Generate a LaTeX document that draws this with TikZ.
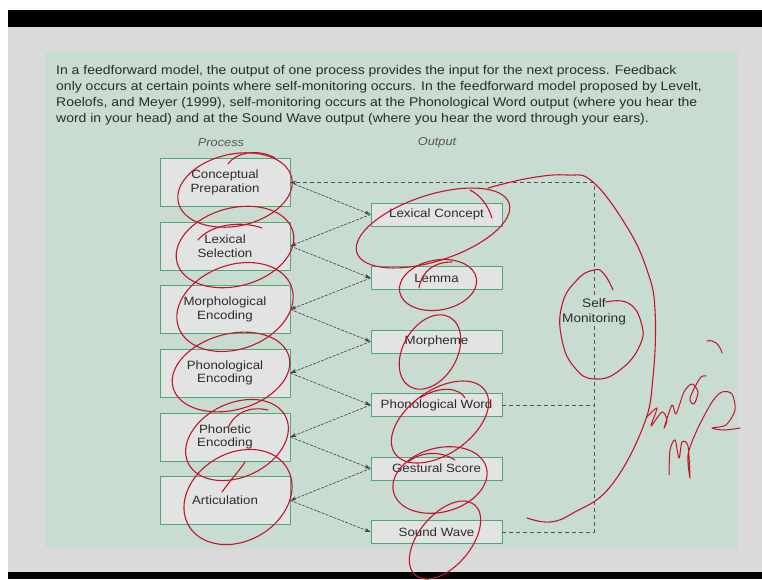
\documentclass[tikz,border=0pt]{standalone}
\usepackage{fontspec}
\setmainfont{Liberation Sans}
\newfontfamily\widesans[FakeStretch=1.11]{Liberation Sans}
\usetikzlibrary{arrows.meta}
\definecolor{slidegray}{HTML}{D9DAD9}
\definecolor{panel}{HTML}{C9DCD1}
\definecolor{boxfill}{HTML}{E2E4E3}
\definecolor{boxline}{HTML}{4FA876}
\definecolor{txt}{HTML}{2B2B2B}
\definecolor{ink}{HTML}{C4142C}
\tikzset{
  pbox/.style={draw=boxline, fill=boxfill, line width=0.8pt, minimum width=130pt,
    minimum height=48pt, inner sep=0pt, align=center, text=txt,
    font=\widesans\fontsize{12}{13.5}\selectfont},
  obox/.style={draw=boxline, fill=boxfill, line width=0.8pt, minimum width=131pt,
    minimum height=23pt, inner sep=0pt, text=txt, font=\widesans\fontsize{12}{13.5}\selectfont},
  flow/.style={draw=txt!90, line width=0.6pt, dash pattern=on 3pt off 1.2pt,
    -{Stealth[length=6pt,width=4pt]}},
  fback/.style={draw=txt!80, line width=0.6pt, dash pattern=on 4pt off 3pt},
  head/.style={text=txt!80, font=\widesans\fontsize{11.5}{13}\selectfont\itshape},
  para/.style={anchor=base west, inner sep=0pt, text=txt, font=\widesans\fontsize{12.6}{16}\selectfont},
  ink/.style={draw=ink, line width=1.1pt, line cap=round, line join=round},
}
\begin{document}
\begin{tikzpicture}[x=1pt,y=-1pt]
\useasboundingbox (0,0) rectangle (762,579);
% slide frame
\fill[white] (0,0) rectangle (762,579);
\fill[slidegray] (8,27) rectangle (762,572);
\fill[black] (8,10) rectangle (762,27);
\fill[black] (8,572) rectangle (762,579);
\fill[panel] (45,52) rectangle (738,549);

% caption
\node[para] (l1) at (56,74) {In a feedforward model, the output of one process provides the input for the next process. Feedback};
\node[para] (l2) at (56,90) {only occurs at certain points where self-monitoring occurs. In the feedforward model proposed by Levelt,};
\node[para] (l3) at (56,106) {Roelofs, and Meyer (1999), self-monitoring occurs at the Phonological Word output (where you hear the};
\node[para] (l4) at (56,122) {word in your head) and at the Sound Wave output (where you hear the word through your ears).};

% column headings
\node[head] (hp) at (221,143) {Process};
\node[head] (ho) at (437,143) {Output};

% process column
\node[pbox] (p1) at (225,182.5) {Conceptual\\Preparation};
\node[pbox] (p2) at (225,246) {Lexical\\Selection};
\node[pbox] (p3) at (225,309.5) {Morphological\\Encoding};
\node[pbox] (p4) at (225,373) {Phonological\\Encoding};
\node[pbox] (p5) at (225,437) {Phonetic\\Encoding};
\node[pbox] (p6) at (225,500.5) {Articulation};

% output column
\node[obox] (o1) at (436.5,214.5) {Lexical Concept};
\node[obox] (o2) at (436.5,278) {Lemma};
\node[obox] (o3) at (436.5,341.5) {Morpheme};
\node[obox] (o4) at (436.5,405) {Phonological Word};
\node[obox] (o5) at (436.5,468.5) {Gestural Score};
\node[obox] (o6) at (436.5,532) {Sound Wave};

% feedforward chain
\draw[flow] (p1.east) -- (o1.west);
\draw[flow] (o1.west) -- (p2.east);
\draw[flow] (p2.east) -- (o2.west);
\draw[flow] (o2.west) -- (p3.east);
\draw[flow] (p3.east) -- (o3.west);
\draw[flow] (o3.west) -- (p4.east);
\draw[flow] (p4.east) -- (o4.west);
\draw[flow] (o4.west) -- (p5.east);
\draw[flow] (p5.east) -- (o5.west);
\draw[flow] (o5.west) -- (p6.east);
\draw[flow] (p6.east) -- (o6.west);

% self-monitoring feedback loop
\coordinate (smx) at (594,0);
\draw[fback] (o4.east) -- (o4.east -| smx);
\draw[fback] (o6.east) -- (o6.east -| smx) -- (p1.east -| smx);
\draw[fback, -{Stealth[length=6pt,width=4pt]}] (p1.east -| smx) -- (p1.east);
\node[fill=panel, align=center, text=txt, inner sep=1pt,
  font=\widesans\fontsize{12.3}{15}\selectfont] (sm) at (594,312) {Self\\Monitoring};

% handwritten red annotations
\draw[ink, rotate around={12:(235,190)}] (235,190) ellipse (58pt and 36pt);
\draw[ink] (228,164) .. controls (238,150) and (262,150) .. (275,158);
\draw[ink, rotate around={15:(235,247)}] (235,247) ellipse (60pt and 39pt);
\draw[ink] (198,240) .. controls (210,225) and (240,220) .. (262,228);
\draw[ink, rotate around={20:(235,307)}] (235,307) ellipse (60pt and 42pt);
\draw[ink, rotate around={15:(231,372)}] (231,372) ellipse (60pt and 38pt);
\draw[ink, rotate around={25:(237,440)}] (237,440) ellipse (54pt and 37pt);
\draw[ink] (228,428) .. controls (235,412) and (250,406) .. (268,410);
\draw[ink, rotate around={30:(238,497)}] (238,497) ellipse (57pt and 44pt);
\draw[ink] (222,492) .. controls (232,478) and (240,470) .. (245,462);

\draw[ink, rotate around={18:(433,228)}] (433,228) ellipse (80pt and 33pt);
\draw[ink] (492,218) .. controls (488,205) and (480,195) .. (470,190);
\draw[ink] plot[smooth, tension=0.7] coordinates {(488,188) (530,178) (567,175) (593,182)
  (627,227) (647,270) (655,310) (653,377) (643,427) (610,487) (573,513) (550,522) (527,518)};
\draw[ink, rotate around={10:(438,285)}] (438,285) ellipse (39pt and 25pt);
\draw[ink] (419,288) .. controls (422,270) and (435,262) .. (452,262);
\draw[ink, rotate around={60:(430,352)}] (430,352) ellipse (40pt and 27pt);
\draw[ink, rotate around={35:(440,422)}] (440,422) ellipse (55pt and 32pt);
\draw[ink] (420,398) .. controls (440,385) and (460,388) .. (465,398);
\draw[ink, rotate around={15:(440,480)}] (440,480) ellipse (48pt and 32pt);
\draw[ink] (408,462) .. controls (420,452) and (440,450) .. (455,460);
\draw[ink, rotate around={50:(445,540)}] (445,540) ellipse (46pt and 26pt);

\draw[ink] plot[smooth, tension=0.8] coordinates {(613,290) (604,274) (594,270) (577,280)
  (562,305) (562,340) (575,368) (595,379) (620,370) (640,345) (641,322) (628,303) (606,302)};

% scribbled note beside the loop
\draw[ink, line width=1pt] plot[smooth, tension=0.5] coordinates {(647,417) (657,408) (651,426)
  (662,412) (667,420) (664,428) (672,405) (676,414) (684,392) (692,384) (698,392) (694,404)
  (690,398) (700,378) (706,376)};
\draw[ink, line width=1pt] (707,341) .. controls (714,339) and (720,345) .. (722,353);
\draw[ink, line width=1pt] plot[smooth, tension=0.5] coordinates {(669,475) (670,450)
  (675,440) (679,458) (682,442) (688,446) (690,478) (688,455) (697,430) (712,402)
  (722,392) (732,394) (735,410) (726,425) (712,428) (724,430) (740,428)};
\end{tikzpicture}
\end{document}
